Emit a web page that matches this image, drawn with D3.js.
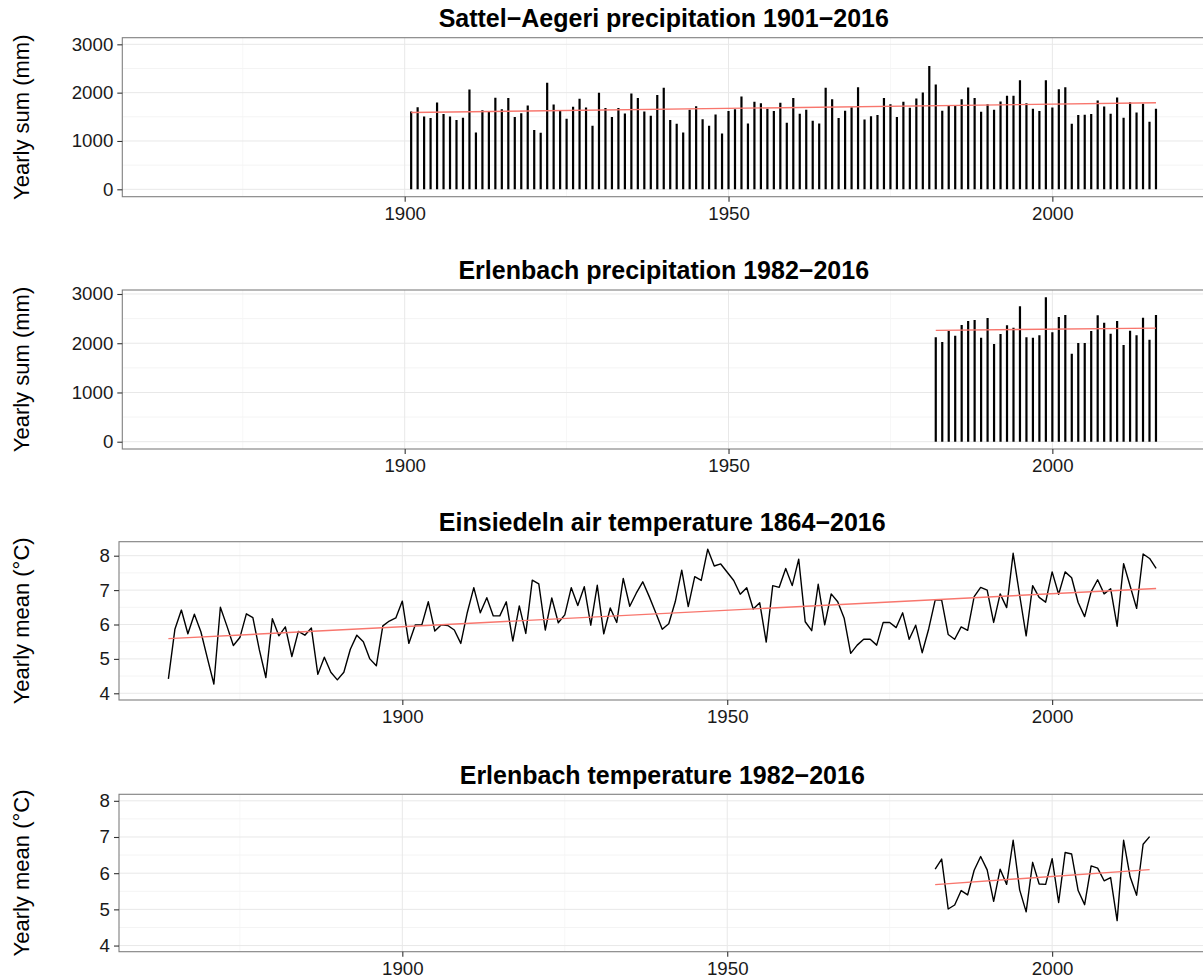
<!DOCTYPE html>
<html>
<head>
<meta charset="utf-8">
<script src="https://cdn.jsdelivr.net/npm/d3@7"></script>
<style>
  body { margin: 0; background: #fff; }
  text { font-family: "Liberation Sans", Arial, Helvetica, sans-serif; }
</style>
</head>
<body>
<div id="chart"></div>
<script>
// Yearly precipitation sums (mm), Sattel-Aegeri 1901-2016
var sattelStart = 1901;
var sattelPrecip = [
    1610, 1700, 1506, 1473, 1796, 1556, 1506, 1432, 1479, 2065,
    1175, 1638, 1610, 1893, 1659, 1887, 1494, 1576, 1734, 1225,
    1169, 2203, 1755, 1631, 1459, 1707, 1872, 1693, 1314, 1997,
    1680, 1494, 1680, 1569, 1983, 1887, 1610, 1521, 1949, 2100,
    1432, 1355, 1175, 1645, 1721, 1452, 1314, 1548, 1155, 1618,
    1659, 1920, 1362, 1810, 1783, 1666, 1618, 1793, 1376, 1887,
    1562, 1645, 1417, 1362, 2100, 1866, 1473, 1624, 1700, 2114,
    1445, 1514, 1535, 1887, 1762, 1494, 1810, 1686, 1879, 2003,
    2549, 2169, 1624, 1741, 1741, 1866, 2107, 1887, 1604, 1762,
    1645, 1817, 1935, 1935, 2259, 1783, 1666, 1618, 2259, 1693,
    2072, 2114, 1355, 1535, 1541, 1556, 1838, 1714, 1562, 1900,
    1479, 1803, 1590, 1769, 1397, 1666
];

// Yearly precipitation sums (mm), Erlenbach 1982-2016
var erlenPrecipStart = 1982;
var erlenPrecip = [
    2121, 2026, 2249, 2154, 2371, 2452, 2473, 2113, 2513, 1985,
    2188, 2365, 2316, 2751, 2121, 2113, 2162, 2935, 2223, 2534,
    2574, 1788, 2005, 2005, 2249, 2568, 2418, 2194, 2452, 1965,
    2255, 2162, 2519, 2072, 2574
];

// Yearly mean air temperature (°C), Einsiedeln 1864-2016
var einsStart = 1864;
var einsTemp = [
    4.42, 5.86, 6.42, 5.73, 6.30, 5.79, 5.02, 4.27, 6.50, 5.96,
    5.39, 5.62, 6.31, 6.20, 5.26, 4.46, 6.17, 5.67, 5.93, 5.07,
    5.80, 5.69, 5.90, 4.55, 5.05, 4.61, 4.39, 4.61, 5.28, 5.69,
    5.50, 5.00, 4.80, 5.96, 6.10, 6.19, 6.68, 5.45, 5.99, 5.99,
    6.66, 5.81, 5.99, 5.97, 5.84, 5.45, 6.35, 7.07, 6.34, 6.78,
    6.25, 6.25, 6.66, 5.52, 6.54, 5.74, 7.29, 7.18, 5.84, 6.77,
    6.05, 6.28, 7.07, 6.55, 7.10, 5.98, 7.14, 5.73, 6.48, 6.06,
    7.34, 6.53, 6.91, 7.24, 6.81, 6.34, 5.86, 6.02, 6.66, 7.58,
    6.52, 7.39, 7.28, 8.19, 7.70, 7.76, 7.52, 7.28, 6.88, 7.07,
    6.45, 6.63, 5.49, 7.13, 7.08, 7.63, 7.13, 7.90, 6.08, 5.82,
    7.17, 5.99, 6.89, 6.66, 6.18, 5.16, 5.40, 5.57, 5.57, 5.40,
    6.06, 6.06, 5.91, 6.34, 5.57, 5.98, 5.18, 5.87, 6.71, 6.71,
    5.71, 5.57, 5.93, 5.83, 6.81, 7.08, 7.00, 6.06, 6.89, 6.49,
    8.07, 6.85, 5.67, 7.13, 6.79, 6.65, 7.53, 6.88, 7.53, 7.36,
    6.64, 6.23, 6.95, 7.30, 6.89, 7.04, 5.95, 7.77, 7.12, 6.47,
    8.05, 7.92, 7.63
];

// Yearly mean temperature (°C), Erlenbach 1982-2015
var erlenTempStart = 1982;
var erlenTemp = [
    6.11, 6.39, 5.01, 5.12, 5.52, 5.40, 6.08, 6.46, 6.09, 5.22,
    6.11, 5.69, 6.91, 5.54, 4.93, 6.30, 5.70, 5.69, 6.40, 5.19,
    6.57, 6.53, 5.52, 5.13, 6.20, 6.14, 5.79, 5.88, 4.69, 6.91,
    5.90, 5.39, 6.80, 7.01
];

// Axis ticks and labels
var xTicks = [1900, 1950, 2000];
var xMinor = [1875, 1925, 1975];
var precipTicks = [0, 1000, 2000, 3000];
var precipMinor = [500, 1500, 2500];
var tempTicks = [4, 5, 6, 7, 8];
var tempMinor = [4.5, 5.5, 6.5, 7.5];
var titles = [
    "Sattel\u2212Aegeri precipitation 1901\u22122016",
    "Erlenbach precipitation 1982\u22122016",
    "Einsiedeln air temperature 1864\u22122016",
    "Erlenbach temperature 1982\u22122016"
];
var yTitles = ["Yearly sum (mm)", "Yearly sum (mm)", "Yearly mean (\u00b0C)", "Yearly mean (\u00b0C)"];

function toPoints(start, values) {
    return values.map(function (v, i) { return { year: start + i, value: v }; });
}

// Add the SVG element
var width = 1203, height = 977;
var svg = d3.select("#chart").append("svg")
    .attr("width", width)
    .attr("height", height);

var xDomain = [1856.4, 2023.6];

// Panel layout (pixels) and y ranges
var panels = [
    { title: titles[0], ytitle: yTitles[0], type: "bar", data: toPoints(sattelStart, sattelPrecip),
      left: 122.3, right: 1205.2, top: 37.7, bottom: 196.7, yDomain: [-153, 3137],
      ticks: precipTicks, minor: precipMinor },
    { title: titles[1], ytitle: yTitles[1], type: "bar", data: toPoints(erlenPrecipStart, erlenPrecip),
      left: 122.3, right: 1205.2, top: 290, bottom: 449, yDomain: [-148, 3081],
      ticks: precipTicks, minor: precipMinor },
    { title: titles[2], ytitle: yTitles[2], type: "line", data: toPoints(einsStart, einsTemp),
      left: 119, right: 1205.5, top: 541.7, bottom: 700, yDomain: [3.805, 8.407],
      ticks: tempTicks, minor: tempMinor },
    { title: titles[3], ytitle: yTitles[3], type: "line", data: toPoints(erlenTempStart, erlenTemp),
      left: 119, right: 1205.5, top: 794.3, bottom: 951.7, yDomain: [3.83, 8.18],
      ticks: tempTicks, minor: tempMinor }
];

// Least squares fit, like geom_smooth(method = "lm")
function linearFit(data) {
    var mx = d3.mean(data, function (d) { return d.year; });
    var my = d3.mean(data, function (d) { return d.value; });
    var sxy = d3.sum(data, function (d) { return (d.year - mx) * (d.value - my); });
    var sxx = d3.sum(data, function (d) { return (d.year - mx) * (d.year - mx); });
    var b = sxy / sxx;
    var a = my - b * mx;
    var x0 = data[0].year, x1 = data[data.length - 1].year;
    return [{ year: x0, value: a + b * x0 }, { year: x1, value: a + b * x1 }];
}

panels.forEach(function (p, k) {
    var x = d3.scaleLinear().domain(xDomain).range([p.left, p.right]);
    var y = d3.scaleLinear().domain(p.yDomain).range([p.bottom, p.top]);
    var g = svg.append("g");

    g.append("clipPath").attr("id", "clip" + k)
        .append("rect")
        .attr("x", p.left).attr("y", p.top)
        .attr("width", p.right - p.left).attr("height", p.bottom - p.top);

    var plot = g.append("g").attr("clip-path", "url(#clip" + k + ")");

    // minor grid
    plot.selectAll(".gx-minor").data(xMinor).enter().append("line")
        .attr("x1", function (d) { return x(d); }).attr("x2", function (d) { return x(d); })
        .attr("y1", p.top).attr("y2", p.bottom)
        .attr("stroke", "#f7f7f7").attr("stroke-width", 1);
    plot.selectAll(".gy-minor").data(p.minor).enter().append("line")
        .attr("y1", function (d) { return y(d); }).attr("y2", function (d) { return y(d); })
        .attr("x1", p.left).attr("x2", p.right)
        .attr("stroke", "#f4f4f4").attr("stroke-width", 1);

    // major grid
    plot.selectAll(".gx").data(xTicks).enter().append("line")
        .attr("x1", function (d) { return x(d); }).attr("x2", function (d) { return x(d); })
        .attr("y1", p.top).attr("y2", p.bottom)
        .attr("stroke", "#e8e8e8").attr("stroke-width", 1);
    plot.selectAll(".gy").data(p.ticks).enter().append("line")
        .attr("y1", function (d) { return y(d); }).attr("y2", function (d) { return y(d); })
        .attr("x1", p.left).attr("x2", p.right)
        .attr("stroke", "#e8e8e8").attr("stroke-width", 1);

    // data
    if (p.type == "bar") {
        plot.selectAll(".bar").data(p.data).enter().append("line")
            .attr("x1", function (d) { return x(d.year); })
            .attr("x2", function (d) { return x(d.year); })
            .attr("y1", y(0))
            .attr("y2", function (d) { return y(d.value); })
            .attr("stroke", "#000").attr("stroke-width", 2.2);
    } else {
        plot.append("path").datum(p.data)
            .attr("d", d3.line()
                .x(function (d) { return x(d.year); })
                .y(function (d) { return y(d.value); }))
            .attr("fill", "none").attr("stroke", "#000")
            .attr("stroke-width", 1.4).attr("stroke-linejoin", "round");
    }

    // linear trend
    plot.append("path").datum(linearFit(p.data))
        .attr("d", d3.line()
            .x(function (d) { return x(d.year); })
            .y(function (d) { return y(d.value); }))
        .attr("fill", "none").attr("stroke", "#f8766d").attr("stroke-width", 1.4);

    // panel border
    g.append("rect")
        .attr("x", p.left).attr("y", p.top)
        .attr("width", p.right - p.left).attr("height", p.bottom - p.top)
        .attr("fill", "none").attr("stroke", "#7f7f7f").attr("stroke-width", 1.1);

    // axes
    var yAxis = g.append("g").attr("transform", "translate(" + p.left + ",0)")
        .call(d3.axisLeft(y).tickValues(p.ticks).tickFormat(d3.format("d")).tickSize(5).tickPadding(4));
    var xAxis = g.append("g").attr("transform", "translate(0," + p.bottom + ")")
        .call(d3.axisBottom(x).tickValues(xTicks).tickFormat(d3.format("d")).tickSize(5).tickPadding(5));
    [yAxis, xAxis].forEach(function (a) {
        a.select(".domain").remove();
        a.selectAll(".tick line").attr("stroke", "#333").attr("stroke-width", 1.1);
        a.selectAll(".tick text").attr("fill", "#1a1a1a")
            .style("font-size", "18.7px")
            .style("font-family", "'Liberation Sans', Arial, Helvetica, sans-serif");
    });

    // title
    g.append("text")
        .attr("x", (p.left + p.right) / 2)
        .attr("y", p.top - 10.7)
        .attr("text-anchor", "middle")
        .style("font-size", "25px")
        .style("font-weight", "bold")
        .attr("fill", "#000")
        .text(p.title);

    // y axis title
    g.append("text")
        .attr("transform", "translate(29," + ((p.top + p.bottom) / 2) + ") rotate(-90)")
        .attr("text-anchor", "middle")
        .style("font-size", "22px")
        .attr("fill", "#000")
        .text(p.ytitle);
});
</script>
</body>
</html>
